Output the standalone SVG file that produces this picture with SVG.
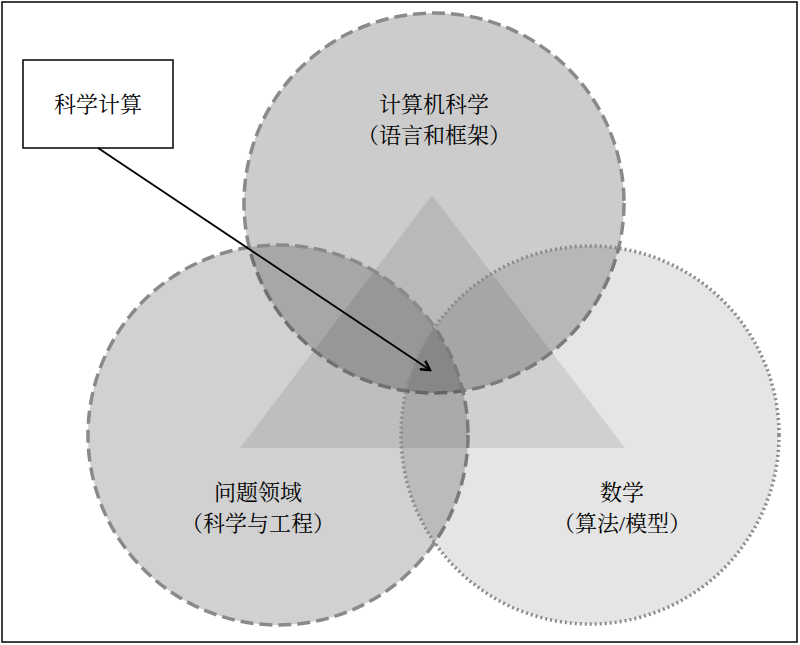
<svg xmlns="http://www.w3.org/2000/svg" width="800" height="645" viewBox="0 0 800 645">
<style>
text{font-family:"Liberation Serif","Noto Serif CJK SC","Noto Sans CJK SC",serif;font-size:22px;fill:#000;text-anchor:middle}
.c{stroke:#8a8a8a;stroke-width:3.5}
</style>
<defs><marker id="a" markerWidth="12" markerHeight="12" refX="10" refY="6" orient="auto" markerUnits="userSpaceOnUse"><path d="M1,1 L10,6 L1,11" fill="none" stroke="#000" stroke-width="2.5"/></marker></defs>
<rect x="2" y="2" width="795" height="640" fill="#fff" stroke="#000" stroke-width="1.5"/>
<g id="triangle"><polygon points="432,195 240,448 625,448" fill="#000" fill-opacity="0.09"/></g>
<g id="cs"><circle cx="434" cy="203" r="190" fill="#000" fill-opacity="0.2" class="c" stroke-dasharray="13 6"/>
<text x="434" y="112">计算机科学</text><text x="434" y="143">（语言和框架）</text></g>
<g id="domain"><circle cx="278" cy="435" r="190" fill="#000" fill-opacity="0.18" class="c" stroke-dasharray="13 6"/>
<text x="258" y="500">问题领域</text><text x="258" y="531">（科学与工程）</text></g>
<g id="math"><circle cx="590" cy="435" r="189" fill="#000" fill-opacity="0.1" class="c" stroke-width="3" stroke-dasharray="2 3"/>
<text x="622" y="500">数学</text><text x="622" y="531">（算法/模型）</text></g>
<g id="label"><rect x="23" y="60" width="150" height="88" fill="#fff" stroke="#000" stroke-width="1.5"/><text x="98" y="112">科学计算</text></g>
<g id="connectors"><line x1="98" y1="148" x2="430" y2="370" stroke="#000" stroke-width="1.8" marker-end="url(#a)"/></g>
</svg>
